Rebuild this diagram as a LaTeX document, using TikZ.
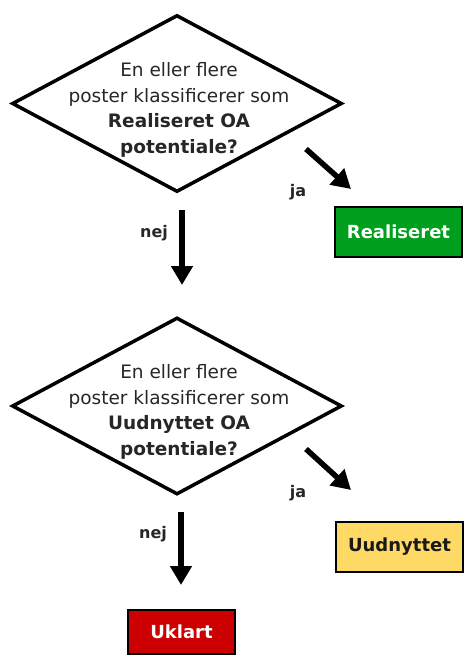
\documentclass[tikz,border=0pt]{standalone}
\usepackage{fontspec}
\setmainfont{DejaVu Sans}
\usetikzlibrary{shapes.geometric,arrows.meta}
\definecolor{gboxc}{RGB}{0,160,30}
\definecolor{yboxc}{RGB}{255,217,102}
\definecolor{rboxc}{RGB}{204,0,0}
\tikzset{
  decision/.style={diamond,draw=black,line width=3.5pt,minimum width=330pt,minimum height=177pt,inner sep=0pt},
  qtext/.style={align=center,font=\fontsize{18.5}{25.7}\selectfont,text=black!85},
  flow/.style={line width=5.5pt,-{Triangle[length=19pt,width=21pt]}},
  lbl/.style={font=\bfseries\fontsize{16}{18}\selectfont,text=black!85},
  outbox/.style={draw=black,line width=2pt,font=\bfseries\fontsize{18}{20}\selectfont,inner sep=0pt},
}
\begin{document}
\begin{tikzpicture}[x=1pt,y=-1pt]
\useasboundingbox (0,0) rectangle (464,656);
% first decision
\node[decision] (d1) at (177,103.5) {};
\node[qtext] (t1) at (179,110) {En eller flere\\poster klassificerer som\\\textbf{Realiseret OA}\\\textbf{potentiale?}};
\coordinate (ja1s) at (306,149);
\coordinate (ja1e) at (351,189);
\draw[flow] (ja1s) -- (ja1e);
\node[lbl] (ja1) at (298,192) {ja};
\node[outbox,fill=gboxc,text=white,minimum width=127pt,minimum height=50pt] (real) at (398.5,231.5) {Realiseret};
\coordinate (nej1s) at (182,210);
\coordinate (nej1e) at (182,285);
\draw[flow] (nej1s) -- (nej1e);
\node[lbl] (nej1) at (154,233) {nej};
% second decision
\node[decision] (d2) at (177,406) {};
\node[qtext] (t2) at (179,412) {En eller flere\\poster klassificerer som\\\textbf{Uudnyttet OA}\\\textbf{potentiale?}};
\coordinate (ja2s) at (306,449);
\coordinate (ja2e) at (351,490);
\draw[flow] (ja2s) -- (ja2e);
\node[lbl] (ja2) at (298,493) {ja};
\node[outbox,fill=yboxc,text=black!90,minimum width=127pt,minimum height=50pt] (uud) at (399.5,546.5) {Uudnyttet};
\coordinate (nej2s) at (181,512);
\coordinate (nej2e) at (181,585);
\draw[flow] (nej2s) -- (nej2e);
\node[lbl] (nej2) at (153,534) {nej};
\node[outbox,fill=rboxc,text=white,minimum width=107pt,minimum height=44pt] (ukl) at (181.5,632) {Uklart};
\end{tikzpicture}
\end{document}
